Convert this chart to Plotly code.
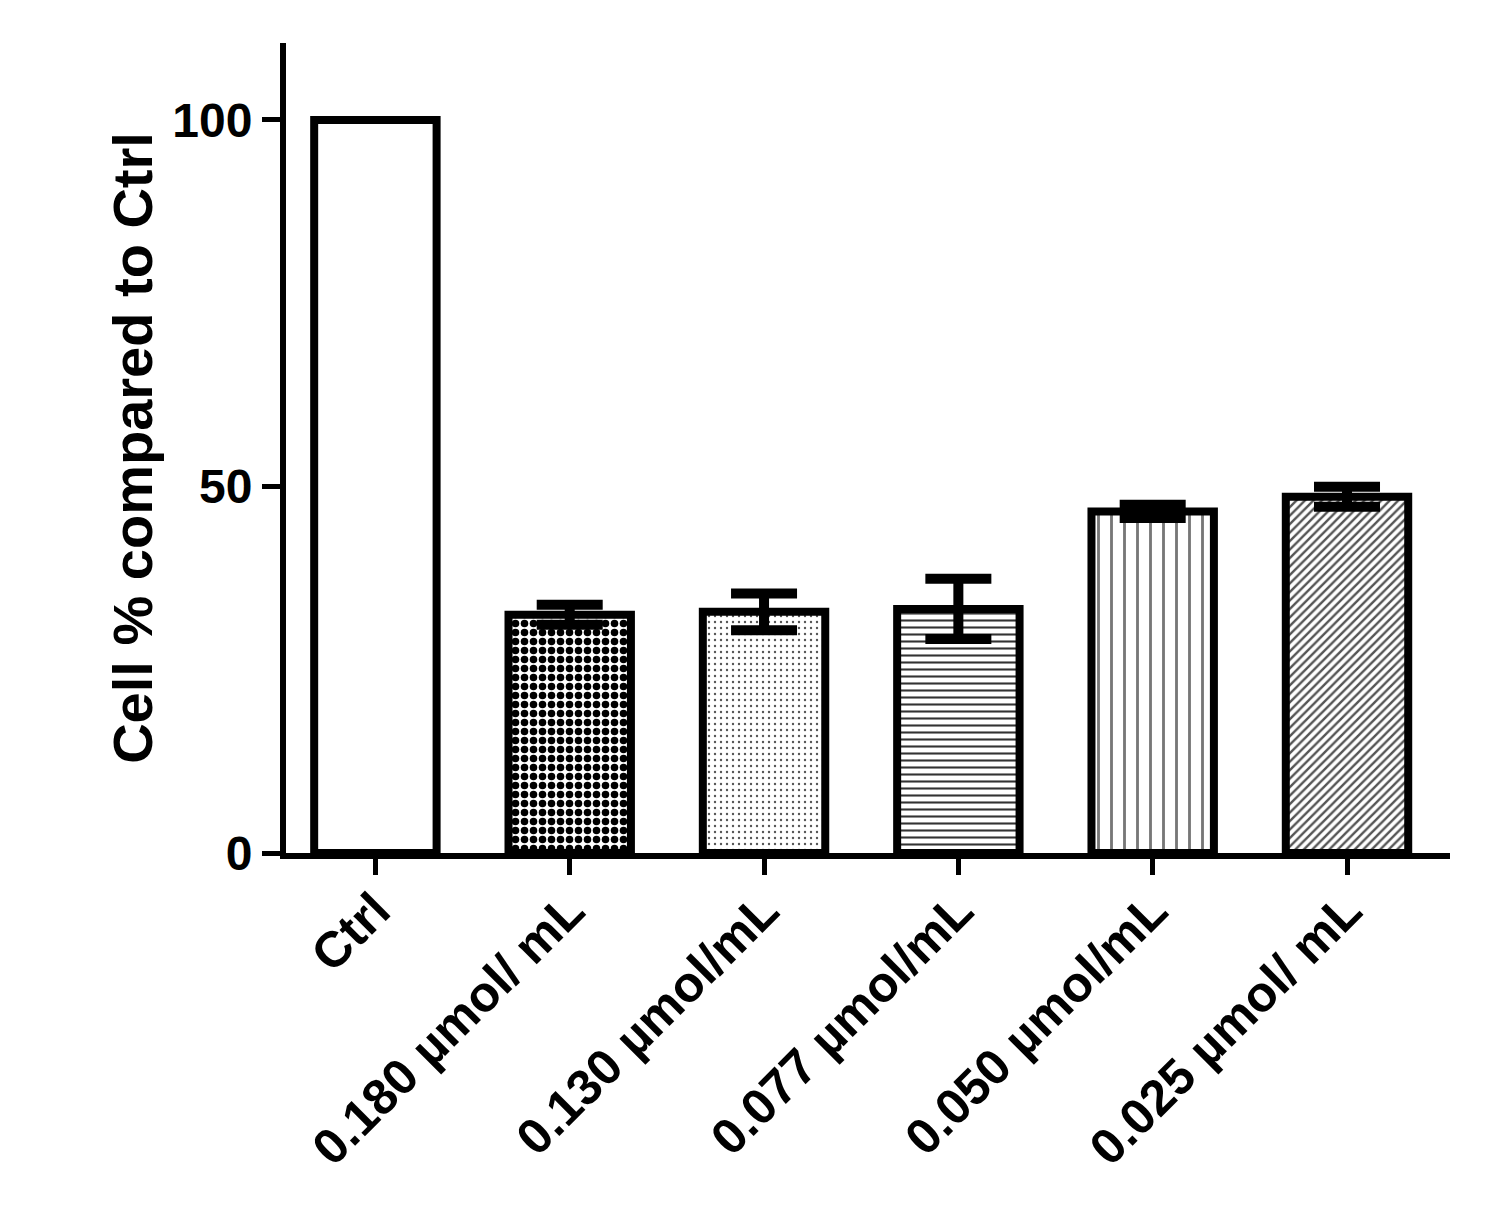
import plotly.graph_objects as go

# values
groups = ['Ctrl', '0.180 µmol/ mL', '0.130 µmol/mL', '0.077 µmol/mL',
          '0.050 µmol/mL', '0.025 µmol/ mL']
cell_pct = [100, 32.5, 32.9, 33.3, 46.6, 48.6]
cell_sem = [0, 1.35, 2.5, 4.1, 0.9, 1.35]
y_ticks = [0, 50, 100]

# hatch styles per bar (Prism-like fills)
shapes = ['', '.', '.', '-', '|', '/']
sizes = [8, 9, 6, 7, 13, 6]
solid = [0.3, 0.55, 0.12, 0.3, 0.22, 0.4]
fg = ['black', 'black', '#555555', '#333333', '#777777', '#555555']

font = dict(family='Liberation Sans, Arial', color='black', weight='bold')


def bars(sl, with_err):
    return go.Bar(
        x=groups[sl],
        y=cell_pct[sl],
        width=0.63,
        marker=dict(
            color='white',
            line=dict(color='black', width=8),
            pattern=dict(shape=shapes[sl], size=sizes[sl], solidity=solid[sl],
                         fgcolor=fg[sl], bgcolor='white', fillmode='replace'),
        ),
        error_y=dict(type='data', array=cell_sem[sl], color='black',
                     thickness=10, width=33, visible=with_err),
    )


# control has no error bar, treated groups do
fig = go.Figure([bars(slice(0, 1), False), bars(slice(1, None), True)])

# page body adds an 8px offset, margins compensate for it
fig.update_layout(
    width=1508, height=1224,
    plot_bgcolor='white', paper_bgcolor='white',
    margin=dict(l=278, r=66, t=35, b=379),
    showlegend=False,
    barmode='overlay',
    font=font,
)
fig.update_xaxes(
    categoryorder='array', categoryarray=groups,
    range=[-0.46, 5.53],
    showline=True, linecolor='black', linewidth=6,
    ticks='outside', ticklen=16, tickwidth=5, tickcolor='black',
    tickangle=-45, tickfont=dict(size=50, **font),
    ticklabelstandoff=-14,
    showgrid=False,
)
fig.update_yaxes(
    range=[0, 110.5],
    tickvals=y_ticks,
    showline=True, linecolor='black', linewidth=6,
    ticks='outside', ticklen=18, tickwidth=5, tickcolor='black',
    tickfont=dict(size=48, **font),
    title=dict(text='Cell % compared to Ctrl', font=dict(size=56, **font),
               standoff=4),
    showgrid=False, zeroline=False,
)

fig.write_html('out.html')
